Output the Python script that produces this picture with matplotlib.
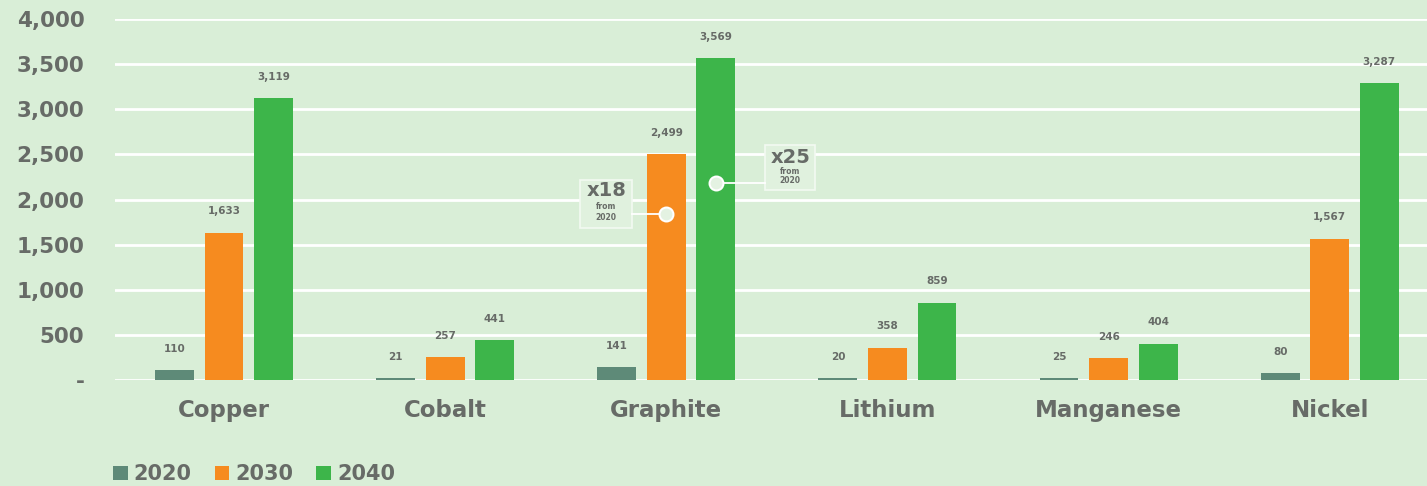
import matplotlib
matplotlib.use("Agg")
import matplotlib.pyplot as plt
import numpy as np
from matplotlib.patches import Patch, Rectangle

categories = ["Copper", "Cobalt", "Graphite", "Lithium", "Manganese", "Nickel"]
years = ["2020", "2030", "2040"]
v2020 = [110, 21, 141, 20, 25, 80]
v2030 = [1633, 257, 2499, 358, 246, 1567]
v2040 = [3119, 441, 3569, 859, 404, 3287]
yticks = [0, 500, 1000, 1500, 2000, 2500, 3000, 3500, 4000]
ytick_labels = ["-", "500", "1,000", "1,500", "2,000", "2,500", "3,000", "3,500", "4,000"]

colors = ["#5e8a78", "#f68b1f", "#3db54a"]
bg = "#d9eed7"
txt = "#676b67"
FONT = "DejaVu Sans"

fig = plt.figure(figsize=(14.27, 4.86), dpi=100)
fig.patch.set_facecolor(bg)
ax = fig.add_axes([0.0806, 0.218, 0.9194, 0.743])
ax.set_facecolor(bg)

x = np.arange(len(categories))
w = 0.176
step = 0.224
series = [v2020, v2030, v2040]
for i, (vals, c) in enumerate(zip(series, colors)):
    pos = x + (i - 1) * step
    ax.bar(pos, vals, width=w, color=c, zorder=3)
    for px, v in zip(pos, vals):
        ax.text(px, v + 180, f"{v:,}", ha="center", va="bottom", fontsize=7.5,
                fontweight="bold", color=txt, family=FONT, zorder=4)

ax.set_xlim(-0.493, 5.44)
ax.set_ylim(0, 4000)
ax.set_yticks(yticks)
ax.set_yticklabels(ytick_labels)
ax.yaxis.grid(True, color="white", linewidth=2, zorder=0)
ax.set_axisbelow(True)
for s in ax.spines.values():
    s.set_visible(False)
ax.tick_params(axis="y", length=0, pad=22, labelsize=15.5, labelcolor=txt)
ax.tick_params(axis="x", length=0, pad=14, labelsize=16.5, labelcolor=txt)
for lab in ax.get_yticklabels():
    lab.set_fontweight("bold"); lab.set_family(FONT)
ax.set_xticks(x)
ax.set_xticklabels(categories)
for lab in ax.get_xticklabels():
    lab.set_fontweight("bold"); lab.set_family(FONT)

# callouts on Graphite
def callout(bar_x, dot_y, x0, x1, y0, y1, line_to, label, ty, fy, yy):
    ax.add_patch(Rectangle((x0, y0), x1 - x0, y1 - y0, fc="#e0f1de", ec="#f3faf2",
                           lw=1.2, zorder=5))
    ax.plot([bar_x, line_to], [dot_y, dot_y], color="white", lw=1.3, zorder=5)
    ax.plot([bar_x], [dot_y], marker="o", ms=10, mfc="#e4f2e2", mec="white", mew=1.5, zorder=6)
    cx = (x0 + x1) / 2
    ax.text(cx, ty, label, ha="center", va="center", fontsize=14, fontweight="bold",
            color=txt, family=FONT, zorder=7)
    ax.text(cx, fy, "from", ha="center", va="center", fontsize=5.5, fontweight="bold",
            color=txt, family=FONT, zorder=7)
    ax.text(cx, yy, "2020", ha="center", va="center", fontsize=5.5, fontweight="bold",
            color=txt, family=FONT, zorder=7)

callout(2 + 0 * step, 1839, 1.611, 1.846, 1684, 2216, 1.846, "x18", 2105, 1917, 1806)
callout(2 + 1 * step, 2183, 2.448, 2.674, 2105, 2604, 2.448, "x25", 2460, 2305, 2205)

handles = [Patch(facecolor=c, label=y) for c, y in zip(colors, years)]
leg = fig.legend(handles=handles, loc="lower left", bbox_to_anchor=(0.066, -0.035), ncol=3,
                 frameon=False, handlelength=0.7, handleheight=0.7, handletextpad=0.3,
                 columnspacing=1.1, prop={"family": FONT, "weight": "bold", "size": 15})
for t in leg.get_texts():
    t.set_color(txt)

fig.savefig("out.png", dpi=100, facecolor=bg)
